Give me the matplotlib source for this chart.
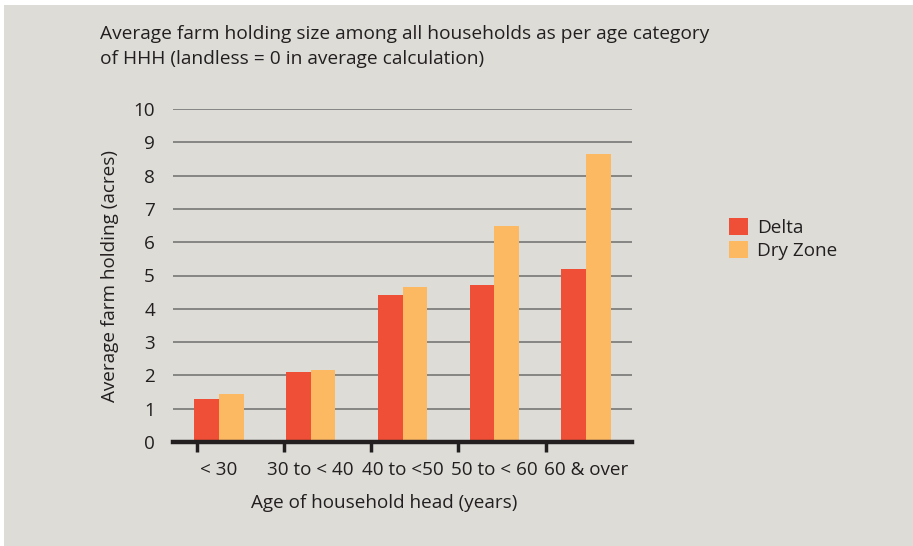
import numpy as np
import matplotlib.pyplot as plt
from matplotlib.patches import Rectangle, Patch

# Data
age_groups = ["< 30", "30 to < 40", "40 to <50", "50 to < 60", "60 & over"]
delta = [1.3, 2.1, 4.4, 4.7, 5.2]
dry_zone = [1.45, 2.15, 4.65, 6.5, 8.65]

bg = "#dddcd7"
red = "#f04f37"
orange = "#fdb862"
text_col = "#231f20"
fs = 13.6

plt.rcParams["font.family"] = ["Open Sans", "DejaVu Sans"]

fig = plt.figure(figsize=(9.13, 5.46), dpi=100, facecolor="white")
# grey panel behind everything
fig.patches.append(Rectangle((4 / 913, 0), 1, 1 - 5 / 546, transform=fig.transFigure,
                             facecolor=bg, edgecolor="none", zorder=-10))

ax = fig.add_axes([173 / 913, 1 - 442 / 546, (632 - 173) / 913, (442 - 109) / 546])
ax.set_facecolor("none")

x = np.arange(len(age_groups))
w = 0.27
ax.bar(x - w / 2, delta, width=w, color=red, zorder=3, label="Delta")
ax.bar(x + w / 2, dry_zone, width=w, color=orange, zorder=3, label="Dry Zone")

ax.set_xlim(-0.5, len(age_groups) - 0.5)
ax.set_ylim(0, 10)
ax.set_yticks(range(0, 11))
ax.tick_params(axis="y", length=0, pad=13, labelsize=fs, colors=text_col)
ax.grid(axis="y", color="#6e6e6e", linewidth=1.1, zorder=1)

# labels centred under groups, tick marks drawn slightly left of them
ax.set_xticks(x, labels=age_groups, minor=True)
ax.set_xticks(np.arange(len(age_groups)) * 0.95 - 0.24, labels=[])
ax.tick_params(axis="x", which="minor", length=0, pad=14, labelsize=fs, colors=text_col)
ax.tick_params(axis="x", which="major", length=7, width=2.5, color="#231f20", direction="out")

for s in ["top", "right", "left"]:
    ax.spines[s].set_visible(False)
ax.spines["bottom"].set_linewidth(3.2)
ax.spines["bottom"].set_color("#231f20")
ax.spines["bottom"].set_zorder(4)

ax.set_ylabel("Average farm holding (acres)", fontsize=fs, color=text_col, labelpad=10)
ax.set_xlabel("Age of household head (years)", fontsize=fs, color=text_col)
ax.xaxis.set_label_coords(0.46, -0.157)

fig.text(100 / 913, 1 - 46.5 / 546, "Average farm holding size among all households as per age category\n"
         "of HHH (landless = 0 in average calculation)",
         fontsize=13.8, color=text_col, va="center", ha="left", linespacing=1.45)

handles = [Patch(facecolor=red, label="Delta"), Patch(facecolor=orange, label="Dry Zone")]
fig.legend(handles=handles, loc="upper left", bbox_to_anchor=(712 / 913, 1 - 201 / 546),
           frameon=False, fontsize=fs, handlelength=1.0, handleheight=1.0,
           handletextpad=0.5, labelspacing=0.2, labelcolor=text_col)

fig.savefig("out.png", dpi=100, facecolor=fig.get_facecolor())
